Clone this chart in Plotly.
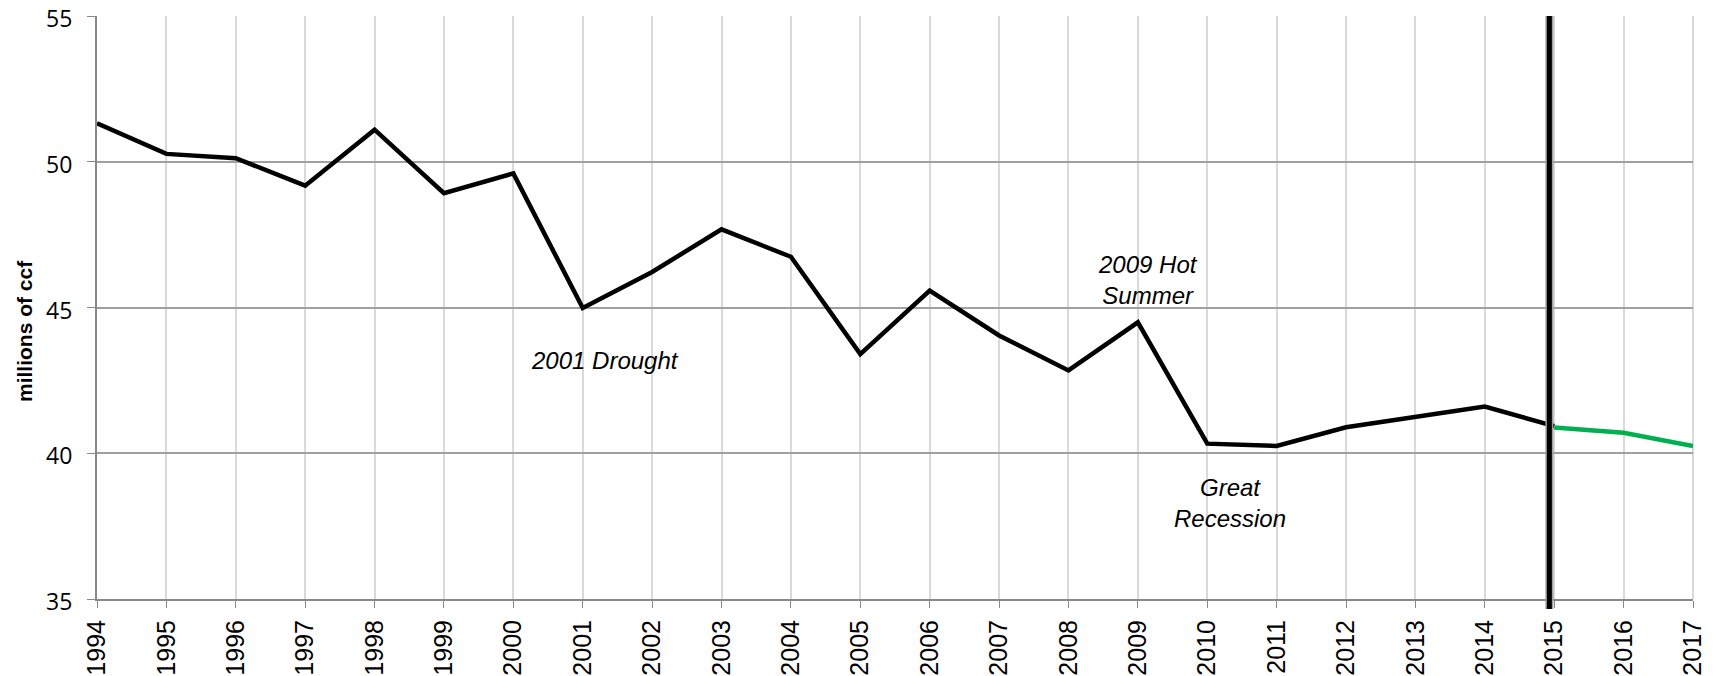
import plotly.graph_objects as go

years = list(range(1994, 2018))
hist_years = list(range(1994, 2016))
hist_values = [51.32, 50.27, 50.12, 49.18, 51.1, 48.92, 49.6, 44.98, 46.22, 47.68,
               46.74, 43.4, 45.58, 44.04, 42.84, 44.49, 40.33, 40.25, 40.89, 41.25,
               41.6, 40.93]
fc_years = [2015, 2016, 2017]
fc_values = [40.88, 40.7, 40.25]
y_ticks = [35, 40, 45, 50, 55]
divider_x = 2014.93
y_title = "millions of ccf"

notes = [
    (2001.32, 43.17, "2001 Drought"),
    (2009.14, 45.96, "2009 Hot<br>Summer"),
    (2010.33, 38.3, "Great<br>Recession"),
]

fig = go.Figure()
fig.add_trace(go.Scatter(x=hist_years, y=hist_values, mode="lines",
                         line=dict(color="black", width=4.5), showlegend=False))
fig.add_trace(go.Scatter(x=fc_years, y=fc_values, mode="lines",
                         line=dict(color="#00b050", width=4.5), showlegend=False))

fig.add_shape(type="line", xref="x", yref="paper", x0=divider_x, x1=divider_x,
              y0=-0.017, y1=1.0, line=dict(color="#a0a0a0", width=8), layer="above")
fig.add_shape(type="line", xref="x", yref="paper", x0=divider_x, x1=divider_x,
              y0=-0.017, y1=1.0, line=dict(color="black", width=5), layer="above")

for x, y, t in notes:
    fig.add_annotation(x=x, y=y, text="<i>" + t + "</i>", showarrow=False,
                       font=dict(family="Liberation Sans, Arial", size=24, color="black"),
                       xanchor="center", yanchor="middle")

# axis title, placed off-centre as in the reference
fig.add_annotation(xref="paper", yref="paper", x=-0.045, y=0.46,
                   text="<b>" + y_title + "</b>", textangle=-90, showarrow=False,
                   font=dict(family="Liberation Sans, Arial", size=21, color="black"),
                   xanchor="center", yanchor="middle")

# page has an 8px body margin: size the figure to fill the rest of the window
fig.update_layout(
    width=1707, height=668,
    margin=dict(l=89, r=22, t=8, b=77),
    paper_bgcolor="white", plot_bgcolor="white",
    font=dict(family="Liberation Sans, Arial", size=20, color="black"),
    xaxis=dict(range=[1994, 2017], tickvals=years, ticktext=[str(y) for y in years],
               tickangle=-90, ticks="outside", ticklen=7, tickcolor="#888888",
               showgrid=True, gridcolor="#d9d9d9", gridwidth=2,
               showline=True, linecolor="#888888", linewidth=2,
               zeroline=False, automargin=False, ticklabeloverflow="allow",
               ticklabelstandoff=2,
               tickfont=dict(family="Liberation Sans, Arial", size=25)),
    yaxis=dict(range=[35, 55], tickvals=y_ticks, ticks="outside", ticklen=8,
               tickcolor="#888888", showgrid=True, gridcolor="#a0a0a0", gridwidth=2,
               showline=True, linecolor="#888888", linewidth=2, zeroline=False,
               automargin=False, ticklabelstandoff=10, ticklabeloverflow="allow",
               ticklabelshift=3,
               tickfont=dict(family="Open Sans", size=23)),
)
fig.add_shape(type="line", xref="paper", yref="paper", x0=1, x1=1, y0=0, y1=1,
              line=dict(color="#d9d9d9", width=2), layer="below")
fig.write_html("out.html")
